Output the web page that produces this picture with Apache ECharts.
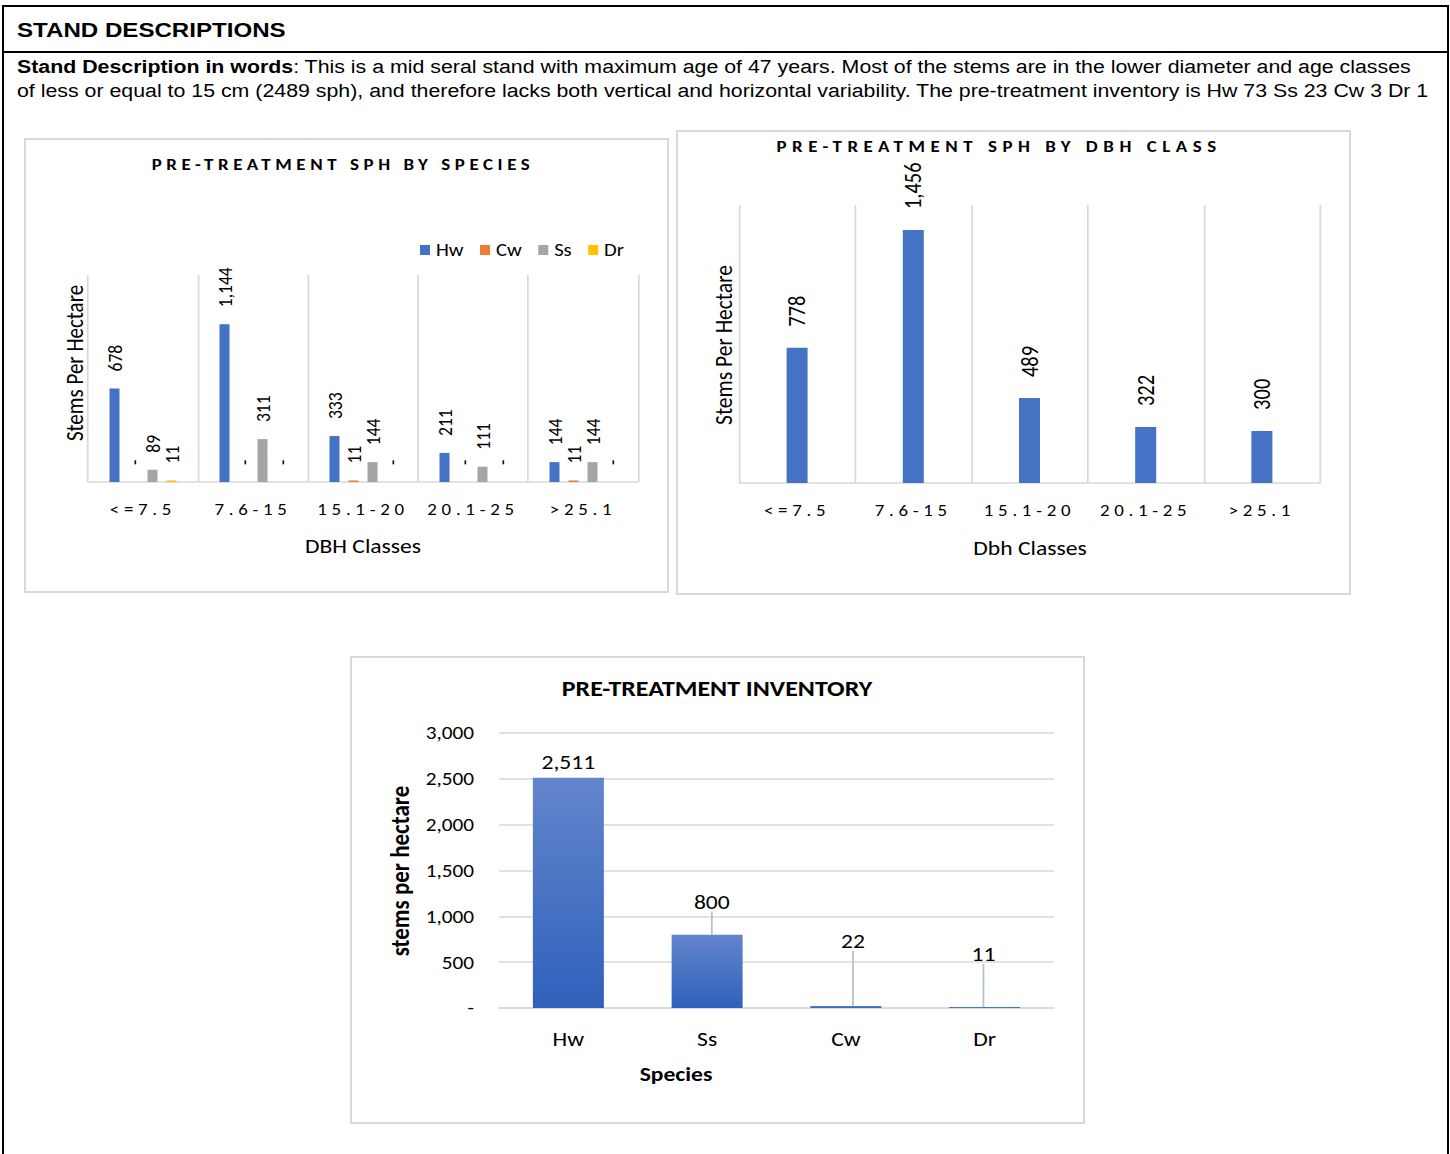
<!DOCTYPE html>
<html><head><meta charset="utf-8">
<script src="https://cdn.jsdelivr.net/npm/echarts@6/dist/echarts.min.js"></script>
<style>
html,body{margin:0;padding:0;background:#fff;}
body{width:1450px;height:1154px;position:relative;overflow:hidden;font-family:"Liberation Sans",Arial,sans-serif;color:#000;}
#frame{position:absolute;left:2px;top:5px;width:1443px;height:1200px;border:2px solid #000;}
#sep{position:absolute;left:2px;top:51px;width:1447px;height:2px;background:#000;}
#h1{position:absolute;left:17px;top:17px;font-weight:bold;font-size:20px;line-height:26px;white-space:nowrap;transform:scaleX(1.205);transform-origin:0 0;}
#desc{position:absolute;left:17px;top:55px;font-size:18px;line-height:24px;white-space:nowrap;transform:scaleX(1.185);transform-origin:0 0;}
.box{position:absolute;box-sizing:border-box;border:2px solid #d9d9d9;pointer-events:none;}
.ch{position:absolute;transform-origin:0 0;}
</style></head><body>
<div id="frame"></div>
<div id="sep"></div>
<div id="h1">STAND DESCRIPTIONS</div>
<div id="desc"><b>Stand Description in words</b>: This is a mid seral stand with maximum age of 47 years. Most of the stems are in the lower diameter and age classes<br>of less or equal to 15 cm (2489 sph), and therefore lacks both vertical and horizontal variability. The pre-treatment inventory is Hw 73 Ss 23 Cw 3 Dr 1</div>

<div id="c1" class="ch"></div>
<div class="box" style="left:24px;top:138px;width:645px;height:455px;"></div>
<div id="c2" class="ch"></div>
<div class="box" style="left:676px;top:130px;width:675px;height:465px;"></div>
<div id="c3" class="ch"></div>
<div class="box" style="left:350px;top:656px;width:735px;height:468px;"></div>

<script>
// ---- data ----
const dbhClasses = ['<=7.5', '7.6-15', '15.1-20', '20.1-25', '>25.1'];
const speciesNames = ['Hw', 'Cw', 'Ss', 'Dr'];
const hwByClass = [678, 1144, 333, 211, 144];
const cwByClass = [0, 0, 11, 0, 11];
const ssByClass = [89, 311, 144, 111, 144];
const drByClass = [11, 0, 0, 0, 0];
const sphByClass = [778, 1456, 489, 322, 300];
const inventorySpecies = ['Hw', 'Ss', 'Cw', 'Dr'];
const inventoryValues = [2511, 800, 22, 11];
const inventoryTicks = [0, 500, 1000, 1500, 2000, 2500, 3000];

// ---- layout helpers (horizontal stretch of the original document) ----
const S = 1.18;
function place(id, left, top, w, h) {
  const el = document.getElementById(id);
  el.style.left = left + 'px'; el.style.top = top + 'px';
  el.style.width = (w / S) + 'px'; el.style.height = h + 'px';
  el.style.transform = 'scaleX(' + S + ')';
  return el;
}
const X = (px, L) => (px - L) / S;

const F = 'Carlito, Lato, "Noto Sans", sans-serif';
const colors = ['#4472C4', '#ED7D31', '#A5A5A5', '#FFC000'];
const fmt = v => (v === 0 ? '-' : Number(v).toLocaleString('en-US'));

function spaceText(chart, texts, spacing) {
  chart.getDom().querySelectorAll('text').forEach(t => {
    if (texts.includes(t.textContent)) t.setAttribute('letter-spacing', spacing);
  });
}

// ---- chart 1 ----
const L1 = 24;
const c1 = echarts.init(place('c1', L1, 138, 644, 454), null, {renderer: 'svg'});
const series1 = [hwByClass, cwByClass, ssByClass, drByClass].map((d, i) => ({
  name: speciesNames[i], type: 'bar', data: d, barWidth: 10 / S, barGap: '90%',
  itemStyle: {color: colors[i]},
  label: {show: true, position: 'top', rotate: 90, align: 'left', verticalAlign: 'middle',
    distance: 17, fontSize: 17.5, color: '#000', fontFamily: F, formatter: p => fmt(p.value)}
}));
c1.setOption({
  animation: false,
  textStyle: {fontFamily: F},
  legend: {data: speciesNames, left: X(420, L1), top: 103, padding: 0, itemWidth: 10 / S, itemHeight: 10, itemGap: 14,
    icon: 'rect', textStyle: {fontSize: 17.5, color: '#000', fontFamily: F}},
  grid: {left: X(88, L1), top: 137, width: 550 / S, height: 207},
  xAxis: {type: 'category', data: dbhClasses,
    axisLine: {lineStyle: {color: '#d9d9d9', width: 1.5}}, axisTick: {show: false},
    splitLine: {show: true, interval: 0, lineStyle: {color: '#d9d9d9', width: 1.5}},
    axisLabel: {interval: 0, fontSize: 16, color: '#000', margin: 20, fontFamily: F}},
  yAxis: {type: 'value', min: 0, max: 1500, axisLine: {show: false},
    axisLabel: {show: false}, splitLine: {show: false}, axisTick: {show: false}},
  graphic: [
    {type: 'text', x: X(343, L1), y: 27, style: {text: 'PRE-TREATMENT SPH BY SPECIES', textAlign: 'center', textVerticalAlign: 'middle', font: 'bold 16px ' + F, fill: '#000'}},
    {type: 'text', x: X(363, L1), y: 408, style: {text: 'DBH Classes', textAlign: 'center', textVerticalAlign: 'middle', font: '20px ' + F, fill: '#000'}},
    {type: 'text', x: X(74, L1), y: 225, rotation: Math.PI / 2, style: {text: 'Stems Per Hectare', textAlign: 'center', textVerticalAlign: 'middle', font: '21px ' + F, fill: '#000'}}
  ],
  series: series1
});

// ---- chart 2 ----
const L2 = 676;
const c2 = echarts.init(place('c2', L2, 130, 674, 464), null, {renderer: 'svg'});
c2.setOption({
  animation: false,
  textStyle: {fontFamily: F},
  grid: {left: X(739, L2), top: 75, width: 581 / S, height: 278},
  xAxis: {type: 'category', data: dbhClasses,
    axisLine: {lineStyle: {color: '#d9d9d9', width: 1.5}}, axisTick: {show: false},
    splitLine: {show: true, interval: 0, lineStyle: {color: '#d9d9d9', width: 1.5}},
    axisLabel: {interval: 0, fontSize: 16, color: '#000', margin: 20, fontFamily: F}},
  yAxis: {type: 'value', min: 0, max: 1600, axisLine: {show: false},
    axisLabel: {show: false}, splitLine: {show: false}, axisTick: {show: false}},
  graphic: [
    {type: 'text', x: X(999, L2), y: 17, style: {text: 'PRE-TREATMENT SPH BY DBH CLASS', textAlign: 'center', textVerticalAlign: 'middle', font: 'bold 16px ' + F, fill: '#000'}},
    {type: 'text', x: X(1030, L2), y: 418, style: {text: 'Dbh Classes', textAlign: 'center', textVerticalAlign: 'middle', font: '20px ' + F, fill: '#000'}},
    {type: 'text', x: X(723, L2), y: 215, rotation: Math.PI / 2, style: {text: 'Stems Per Hectare', textAlign: 'center', textVerticalAlign: 'middle', font: '21.5px ' + F, fill: '#000'}}
  ],
  series: [{type: 'bar', data: sphByClass, barWidth: 21 / S, itemStyle: {color: '#4472C4'},
    label: {show: true, position: 'top', rotate: 90, align: 'left', verticalAlign: 'middle',
      distance: 21, fontSize: 20.5, color: '#000', fontFamily: F, formatter: p => fmt(p.value)}}]
});

// ---- chart 3 ----
const L3 = 350;
const c3 = echarts.init(place('c3', L3, 656, 734, 467), null, {renderer: 'svg'});
const grad = new echarts.graphic.LinearGradient(0, 0, 0, 1, [
  {offset: 0, color: '#6385CC'}, {offset: 1, color: '#2F61BB'}]);
const labelShift = [[0, 0], [4, -17], [6, -49], [-1, -37]];
c3.setOption({
  animation: false,
  textStyle: {fontFamily: F},
  grid: {left: X(499, L3), top: 77, width: 555 / S, height: 275},
  xAxis: {type: 'category', data: inventorySpecies,
    axisLine: {lineStyle: {color: '#d9d9d9', width: 1.5}}, axisTick: {show: false},
    axisLabel: {interval: 0, fontSize: 20, color: '#000', margin: 21, fontFamily: F}},
  yAxis: {type: 'value', min: inventoryTicks[0], max: inventoryTicks[inventoryTicks.length - 1], interval: 500,
    axisLine: {show: false}, axisTick: {show: false},
    axisLabel: {fontSize: 18, color: '#000', margin: 25 / S, fontFamily: F, formatter: v => fmt(v)},
    splitLine: {lineStyle: {color: '#d9d9d9', width: 1.5}}},
  graphic: [
    {type: 'text', x: X(717, L3), y: 32, style: {text: 'PRE-TREATMENT INVENTORY', textAlign: 'center', textVerticalAlign: 'middle', font: 'bold 22px ' + F, fill: '#000'}},
    {type: 'text', x: X(676, L3), y: 418, style: {text: 'Species', textAlign: 'center', textVerticalAlign: 'middle', font: 'bold 20px ' + F, fill: '#000'}},
    {type: 'text', x: X(400, L3), y: 215, rotation: Math.PI / 2, style: {text: 'stems per hectare', textAlign: 'center', textVerticalAlign: 'middle', font: 'bold 23px ' + F, fill: '#000'}}
  ],
  series: [{type: 'bar', barWidth: 71 / S, itemStyle: {color: grad},
    data: inventoryValues.map((v, i) => ({value: v, labelLine: {show: i > 0}})),
    label: {show: true, position: 'top', fontSize: 20, color: '#000', fontFamily: F, distance: 6,
      formatter: p => fmt(p.value)},
    labelLine: {show: true, lineStyle: {color: '#b8c0cc', width: 1.5}},
    labelLayout: p => ({dx: labelShift[p.dataIndex][0], dy: labelShift[p.dataIndex][1]})}]
});

function post() {
  spaceText(c1, ['PRE-TREATMENT SPH BY SPECIES'], 3.9);
  spaceText(c2, ['PRE-TREATMENT SPH BY DBH CLASS'], 4.7);
  spaceText(c1, dbhClasses, 4);
  spaceText(c2, dbhClasses, 4);
}
post();
[c1, c2, c3].forEach(c => c.on('finished', post));
setTimeout(post, 50);
</script>
</body></html>
